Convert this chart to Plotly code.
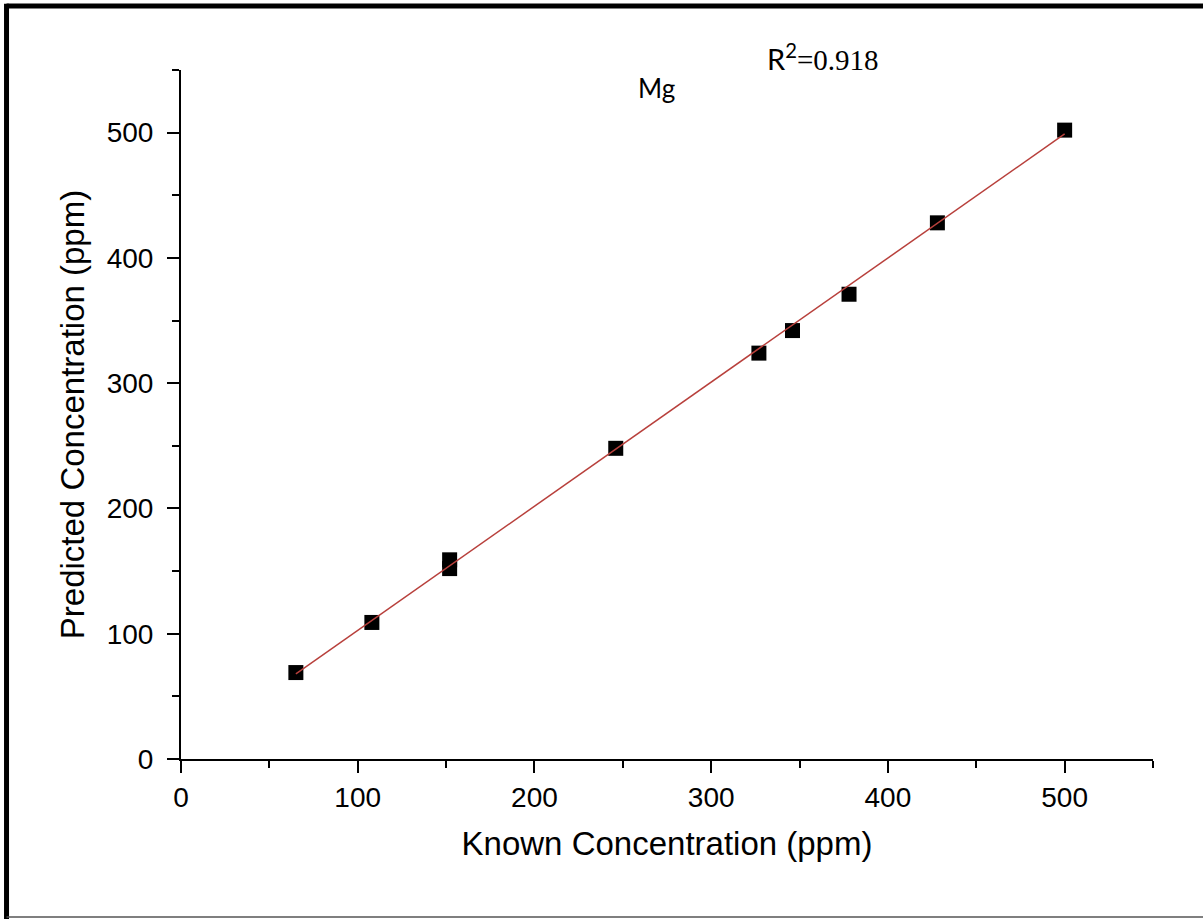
import plotly.graph_objects as go

# Data
known_ppm = [65, 108, 152, 152, 246, 327, 346, 378, 428, 500]
predicted_ppm = [69, 109, 152, 159, 248, 324, 342, 371, 428, 502]
fit_x = [65, 500]
fit_y = [68, 499]
x_ticks = [0, 100, 200, 300, 400, 500]
y_ticks = [0, 100, 200, 300, 400, 500]

fig = go.Figure()
fig.add_trace(go.Scatter(
    x=known_ppm, y=predicted_ppm, mode="markers",
    marker=dict(symbol="square", size=15, color="black", line=dict(width=0)),
    showlegend=False, cliponaxis=False,
))
fig.add_trace(go.Scatter(
    x=fit_x, y=fit_y, mode="lines",
    line=dict(color="#b8403c", width=1.5),
    showlegend=False,
))

axis_common = dict(
    showgrid=False, zeroline=False, showline=True, linecolor="black", linewidth=2,
    ticks="outside", ticklen=12, tickwidth=2, tickcolor="black",
    tickfont=dict(family="Liberation Sans, Arial", size=28, color="black"),
    minor=dict(ticks="outside", ticklen=7, tickwidth=2, tickcolor="black", dtick=50),
)

fig.update_xaxes(
    range=[0, 550], tickvals=x_ticks, **axis_common,
    title=dict(text="Known Concentration (ppm)",
               font=dict(family="Liberation Sans, Arial", size=33, color="black"),
               standoff=20),
)
fig.update_yaxes(
    range=[0, 550], tickvals=y_ticks, ticklabelstandoff=8, **axis_common,
    title=dict(text="Predicted Concentration (ppm)",
               font=dict(family="Liberation Sans, Arial", size=33, color="black"),
               standoff=12),
)

fig.add_annotation(
    x=0.4887, y=0.974, xref="paper", yref="paper", showarrow=False,
    text="Mg", font=dict(family="Lato, Noto Sans", size=26, color="black"),
    xanchor="center", yanchor="middle",
)
fig.add_annotation(
    x=0.601, y=1.019, xref="paper", yref="paper", showarrow=False,
    text="R<sup>2</sup><span style='font-family:Liberation Serif, Times New Roman'>=0.918</span>",
    font=dict(family="Lato, Noto Sans", size=29, color="black"),
    xanchor="left", yanchor="middle",
)

# Frame lines of the picture
fig.add_shape(type="line", xref="paper", yref="paper", x0=-0.1795, x1=1.06, y0=1.0929, y1=1.0929,
              line=dict(color="black", width=5))
fig.add_shape(type="line", xref="paper", yref="paper", x0=-0.1795, x1=-0.1795, y0=1.096, y1=-0.235,
              line=dict(color="black", width=5))
fig.add_shape(type="line", xref="paper", yref="paper", x0=-0.1795, x1=1.06, y0=-0.2293, y1=-0.2293,
              line=dict(color="#555555", width=1.5))

fig.update_layout(
    width=1203, height=919,
    margin=dict(l=181, r=50, t=70, b=160),
    paper_bgcolor="white", plot_bgcolor="white",
    showlegend=False,
)

fig.write_html(
    "out.html",
    config={"displayModeBar": False},
    post_script="document.body.style.margin='0px';document.body.style.overflow='hidden';",
)
